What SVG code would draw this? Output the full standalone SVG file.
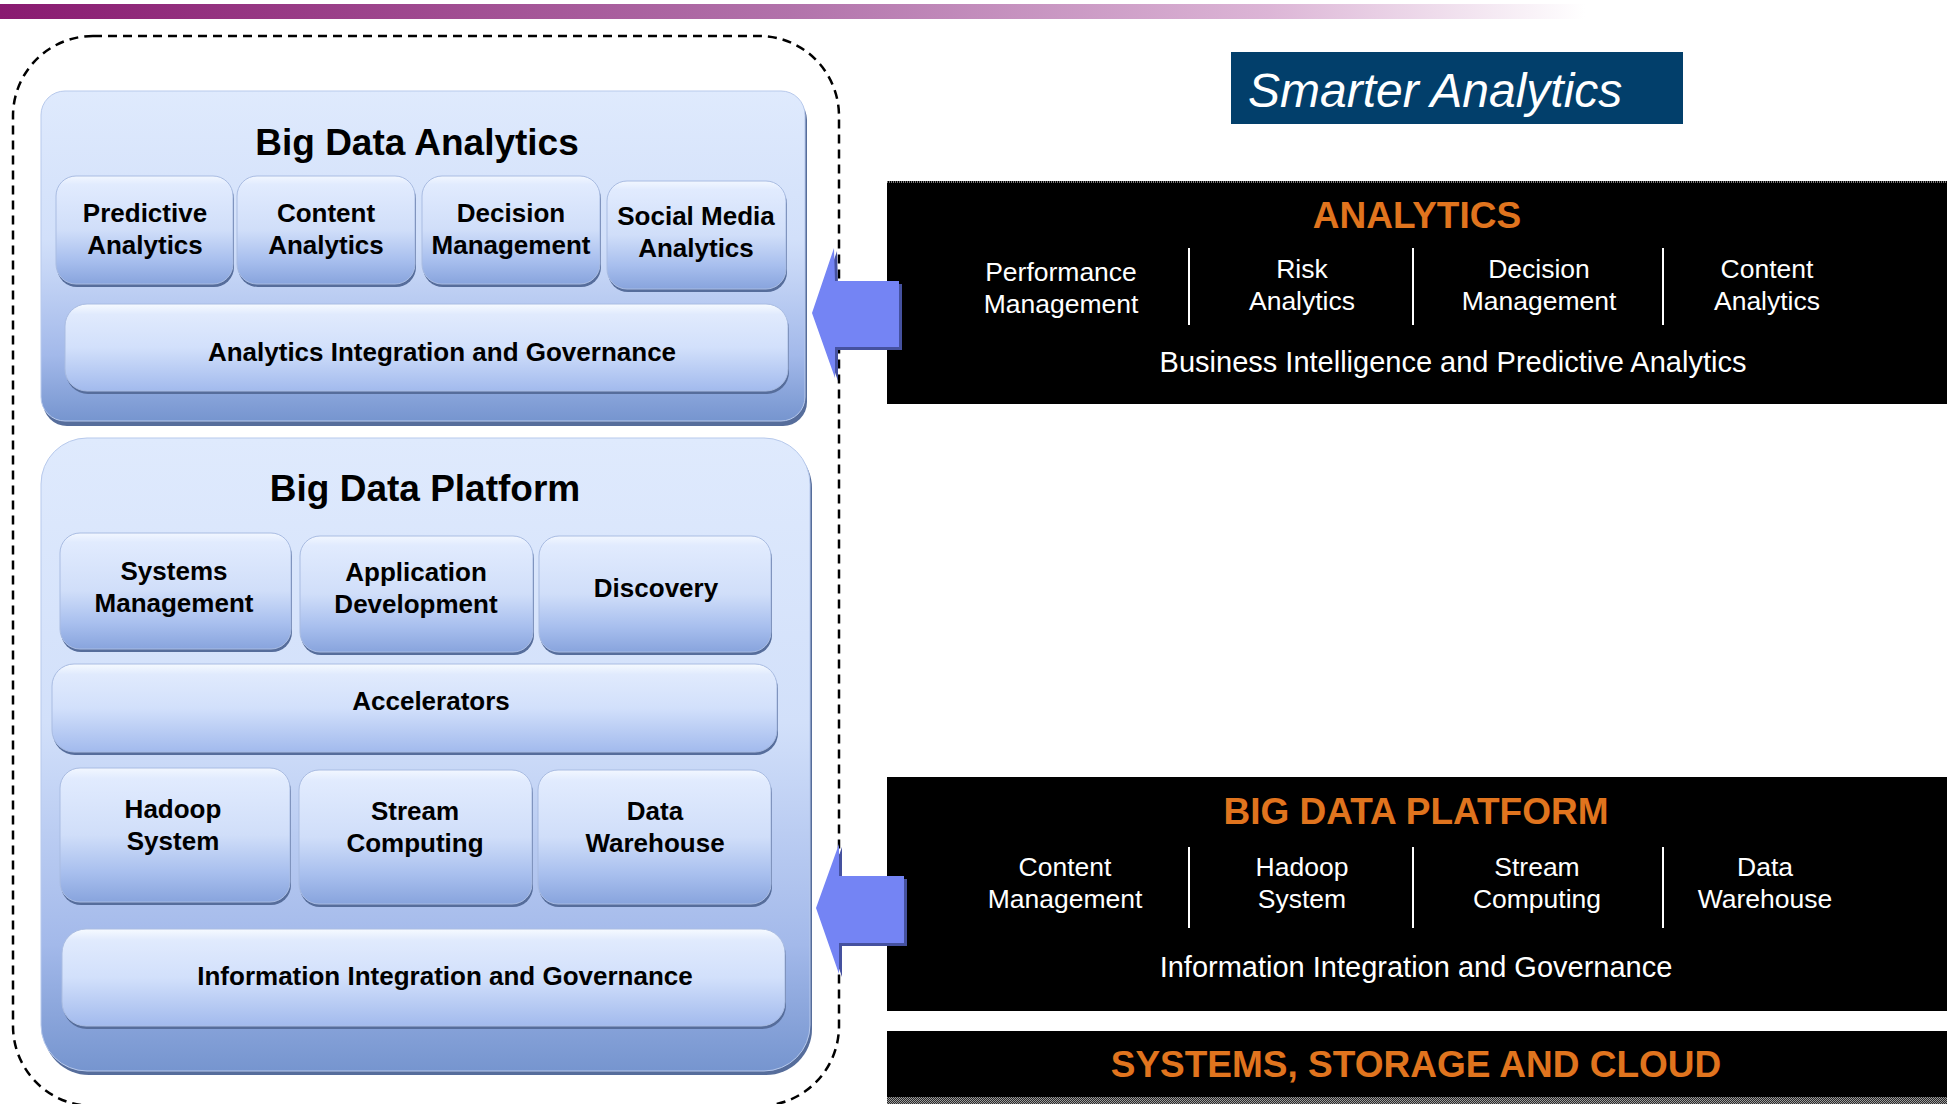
<svg xmlns="http://www.w3.org/2000/svg" width="1953" height="1104" viewBox="0 0 1953 1104">
<defs>
<linearGradient id="topbar" x1="0" y1="0" x2="1" y2="0">
<stop offset="0" stop-color="#891a70"/>
<stop offset="0.5" stop-color="#b273ab"/>
<stop offset="0.8" stop-color="#dcb5d6"/>
<stop offset="1" stop-color="#ffffff"/>
</linearGradient>
<linearGradient id="panel" x1="0" y1="0" x2="0" y2="1">
<stop offset="0" stop-color="#dfeafd"/>
<stop offset="0.45" stop-color="#d2e0fa"/>
<stop offset="0.8" stop-color="#a3b9ea"/>
<stop offset="1" stop-color="#7695cf"/>
</linearGradient>
<linearGradient id="box" x1="0" y1="0" x2="0" y2="1">
<stop offset="0" stop-color="#f2f7ff"/>
<stop offset="0.08" stop-color="#e1ebfe"/>
<stop offset="0.5" stop-color="#d0def9"/>
<stop offset="0.78" stop-color="#a8bfee"/>
<stop offset="1" stop-color="#88a4dd"/>
</linearGradient>
<linearGradient id="bar" x1="0" y1="0" x2="0" y2="1">
<stop offset="0" stop-color="#f6faff"/>
<stop offset="0.12" stop-color="#e0eafd"/>
<stop offset="0.5" stop-color="#d2e0fb"/>
<stop offset="1" stop-color="#a2baed"/>
</linearGradient>
<pattern id="dither" width="2" height="2" patternUnits="userSpaceOnUse">
<rect width="2" height="2" fill="#2a2a2a"/>
<rect width="1" height="1" fill="#9a9a9a"/>
<rect x="1" y="1" width="1" height="1" fill="#9a9a9a"/>
</pattern>
</defs>
<style>
.lb{font-family:"Liberation Sans",Arial,sans-serif;font-weight:bold;font-size:26px;fill:#000;text-anchor:middle}
.tt{font-family:"Liberation Sans",Arial,sans-serif;font-weight:bold;font-size:37px;fill:#000;text-anchor:middle}
.rw{font-family:"Liberation Sans",Arial,sans-serif;font-size:26.5px;fill:#fff;text-anchor:middle}
.rw2{font-family:"Liberation Sans",Arial,sans-serif;font-size:29px;fill:#fff;text-anchor:middle}
.or{font-family:"Liberation Sans",Arial,sans-serif;font-weight:bold;font-size:37px;fill:#e0741e;text-anchor:middle}
.shd{fill:#566d9b}
.bx{fill:url(#box);stroke:#a9bce2;stroke-width:1}
.br{fill:url(#bar);stroke:#a9bce2;stroke-width:1}
.pn{fill:url(#panel);stroke:#b7c9ec;stroke-width:1}
.blk{fill:#000}
.div{stroke:#fff;stroke-width:2}
.arr{fill:#7484f4}
.arrs{fill:#45519f}
</style>
<rect width="1953" height="1104" fill="#fff"/>
<rect id="topbar" x="0" y="4" width="1585" height="15" fill="url(#topbar)"/>

<g id="outline">
<rect x="13" y="36" width="826" height="1070" rx="80" ry="80" fill="none" stroke="#000" stroke-width="2.5" stroke-dasharray="9 6"/>
</g>

<g id="big-data-analytics">
<rect class="shd" x="43" y="96" width="764" height="330" rx="24"/>
<rect class="pn" x="41" y="91" width="764" height="330" rx="24"/>
<text class="tt" x="417" y="155">Big Data Analytics</text>
</g>
<g id="predictive-analytics">
<rect class="shd" x="57" y="179" width="177" height="108" rx="20"/>
<rect class="bx" x="56" y="176" width="177" height="108" rx="20"/>
<text class="lb" x="145" y="222">Predictive</text><text class="lb" x="145" y="254">Analytics</text>
</g>
<g id="content-analytics">
<rect class="shd" x="238" y="179" width="178" height="108" rx="20"/>
<rect class="bx" x="237" y="176" width="178" height="108" rx="20"/>
<text class="lb" x="326" y="222">Content</text><text class="lb" x="326" y="254">Analytics</text>
</g>
<g id="decision-management">
<rect class="shd" x="423" y="179" width="178" height="108" rx="20"/>
<rect class="bx" x="422" y="176" width="178" height="108" rx="20"/>
<text class="lb" x="511" y="222">Decision</text><text class="lb" x="511" y="254">Management</text>
</g>
<g id="social-media-analytics">
<rect class="shd" x="608" y="184" width="179" height="108" rx="20"/>
<rect class="bx" x="607" y="181" width="179" height="108" rx="20"/>
<text class="lb" x="696" y="225">Social Media</text><text class="lb" x="696" y="257">Analytics</text>
</g>
<g id="analytics-integration">
<rect class="shd" x="66" y="307" width="723" height="87" rx="22"/>
<rect class="br" x="65" y="304" width="723" height="87" rx="22"/>
<text class="lb" x="442" y="361">Analytics Integration and Governance</text>
</g>

<g id="big-data-platform">
<rect class="shd" x="43" y="442" width="769" height="633" rx="46"/>
<rect class="pn" x="41" y="438" width="769" height="633" rx="46"/>
<text class="tt" x="425" y="501">Big Data Platform</text>
</g>
<g id="systems-management">
<rect class="shd" x="61" y="536" width="231" height="116" rx="20"/>
<rect class="bx" x="60" y="533" width="231" height="116" rx="20"/>
<text class="lb" x="174" y="580">Systems</text><text class="lb" x="174" y="612">Management</text>
</g>
<g id="application-development">
<rect class="shd" x="301" y="539" width="233" height="116" rx="20"/>
<rect class="bx" x="300" y="536" width="233" height="116" rx="20"/>
<text class="lb" x="416" y="581">Application</text><text class="lb" x="416" y="613">Development</text>
</g>
<g id="discovery">
<rect class="shd" x="540" y="539" width="232" height="116" rx="20"/>
<rect class="bx" x="539" y="536" width="232" height="116" rx="20"/>
<text class="lb" x="656" y="597">Discovery</text>
</g>
<g id="accelerators">
<rect class="shd" x="53" y="667" width="725" height="88" rx="22"/>
<rect class="br" x="52" y="664" width="725" height="88" rx="22"/>
<text class="lb" x="431" y="710">Accelerators</text>
</g>
<g id="hadoop-system">
<rect class="shd" x="61" y="771" width="230" height="134" rx="20"/>
<rect class="bx" x="60" y="768" width="230" height="134" rx="20"/>
<text class="lb" x="173" y="818">Hadoop</text><text class="lb" x="173" y="850">System</text>
</g>
<g id="stream-computing">
<rect class="shd" x="300" y="773" width="233" height="134" rx="20"/>
<rect class="bx" x="299" y="770" width="233" height="134" rx="20"/>
<text class="lb" x="415" y="820">Stream</text><text class="lb" x="415" y="852">Computing</text>
</g>
<g id="data-warehouse">
<rect class="shd" x="539" y="773" width="233" height="134" rx="20"/>
<rect class="bx" x="538" y="770" width="233" height="134" rx="20"/>
<text class="lb" x="655" y="820">Data</text><text class="lb" x="655" y="852">Warehouse</text>
</g>
<g id="information-integration">
<rect class="shd" x="63" y="932" width="723" height="97" rx="24"/>
<rect class="br" x="62" y="929" width="723" height="97" rx="24"/>
<text class="lb" x="445" y="985">Information Integration and Governance</text>
</g>

<g id="smarter-analytics">
<rect x="1231" y="52" width="452" height="72" fill="#023f6b"/>
<text x="1248" y="107" font-family="Liberation Sans, Arial, sans-serif" font-style="italic" font-size="48" fill="#fff">Smarter Analytics</text>
</g>

<g id="analytics-block">
<rect class="blk" x="887" y="181" width="1060" height="223"/>
<line x1="887" y1="182" x2="1947" y2="182" stroke="#777" stroke-width="2" stroke-dasharray="1 1"/>
<text class="or" x="1417" y="228">ANALYTICS</text>
<line class="div" x1="1189" y1="248" x2="1189" y2="325"/>
<line class="div" x1="1413" y1="248" x2="1413" y2="325"/>
<line class="div" x1="1663" y1="248" x2="1663" y2="325"/>
<text class="rw" x="1061" y="281">Performance</text><text class="rw" x="1061" y="313">Management</text>
<text class="rw" x="1302" y="278">Risk</text><text class="rw" x="1302" y="310">Analytics</text>
<text class="rw" x="1539" y="278">Decision</text><text class="rw" x="1539" y="310">Management</text>
<text class="rw" x="1767" y="278">Content</text><text class="rw" x="1767" y="310">Analytics</text>
<text class="rw2" x="1453" y="372">Business Intelligence and Predictive Analytics</text>
</g>

<g id="platform-block">
<rect class="blk" x="887" y="777" width="1060" height="234"/>
<text class="or" x="1416" y="824">BIG DATA PLATFORM</text>
<line class="div" x1="1189" y1="847" x2="1189" y2="928"/>
<line class="div" x1="1413" y1="847" x2="1413" y2="928"/>
<line class="div" x1="1663" y1="847" x2="1663" y2="928"/>
<text class="rw" x="1065" y="876">Content</text><text class="rw" x="1065" y="908">Management</text>
<text class="rw" x="1302" y="876">Hadoop</text><text class="rw" x="1302" y="908">System</text>
<text class="rw" x="1537" y="876">Stream</text><text class="rw" x="1537" y="908">Computing</text>
<text class="rw" x="1765" y="876">Data</text><text class="rw" x="1765" y="908">Warehouse</text>
<text class="rw2" x="1416" y="977">Information Integration and Governance</text>
</g>

<g id="systems-block">
<rect class="blk" x="887" y="1031" width="1060" height="73"/>
<rect x="887" y="1097" width="1060" height="7" fill="url(#dither)"/>
<text class="or" x="1416" y="1077">SYSTEMS, STORAGE AND CLOUD</text>
</g>

<g id="connectors">
<polygon class="arrs" points="815,316 837,251 838,284 902,284 902,350 838,350 838,381"/>
<polygon class="arr" points="812,313 834,248 835,281 899,281 899,347 835,347 835,378"/>
<polygon class="arrs" points="819,911 842,847 842,879 907,879 907,946 842,946 842,977"/>
<polygon class="arr" points="816,908 839,844 839,876 904,876 904,943 839,943 839,974"/>
</g>
</svg>
